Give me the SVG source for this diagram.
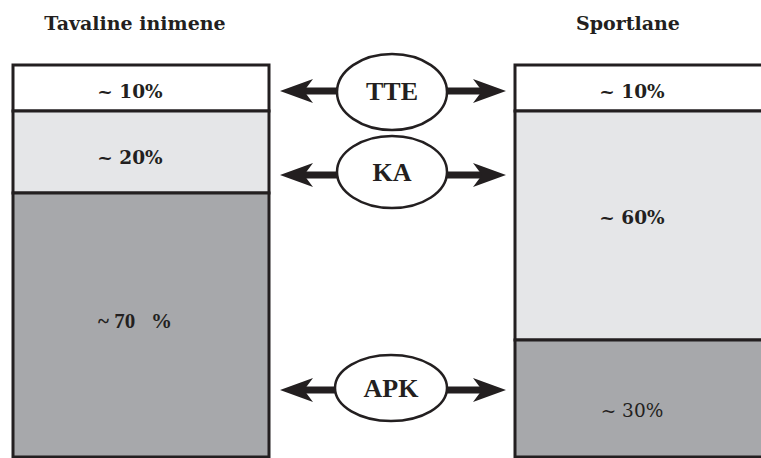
<svg xmlns="http://www.w3.org/2000/svg" width="761" height="458" viewBox="0 0 761 458">
<style>
.box{stroke:#231f20;stroke-width:3}
.w{fill:#ffffff}.l{fill:#e5e6e8}.d{fill:#a7a8ab}
.s{font-family:"DejaVu Serif","Liberation Serif",serif;font-weight:bold;fill:#231f20;text-anchor:middle}
.t{font-family:"Liberation Serif","DejaVu Serif",serif;font-weight:bold;fill:#231f20;text-anchor:middle}
.h{font-size:19px}
.p{font-size:18.5px}
.e{font-size:26px}
.ell{fill:#ffffff;stroke:#231f20;stroke-width:2.5}
.shaft{stroke:#231f20;stroke-width:7;fill:none}
.head{fill:#231f20}
</style>
<text class="s h" x="135" y="30">Tavaline inimene</text>
<text class="s h" x="628" y="30">Sportlane</text>
<g id="left">
<rect class="box w" x="13" y="65" width="256" height="46"/>
<rect class="box l" x="13" y="111" width="256" height="82"/>
<rect class="box d" x="13" y="193" width="256" height="264"/>
<text class="s p" x="130" y="98">~ 10%</text>
<text class="s p" x="130" y="164">~ 20%</text>
<text class="t" style="font-size:21px" x="135" y="328" xml:space="preserve">~ 70   %</text>
</g>
<g id="right">
<rect class="box w" x="515" y="65" width="250" height="46"/>
<rect class="box l" x="515" y="111" width="250" height="229"/>
<rect class="box d" x="515" y="340" width="250" height="117"/>
<text class="s p" x="632" y="98">~ 10%</text>
<text class="s p" x="632" y="224">~ 60%</text>
<text class="s p" x="632" y="417" style="font-weight:normal">~ 30%</text>
</g>
<g id="connectors">
<line class="shaft" x1="300" y1="91" x2="340" y2="91"/>
<path class="head" d="M280,91 L313,79 L304,91 L313,103 Z"/>
<line class="shaft" x1="444" y1="91" x2="486" y2="91"/>
<path class="head" d="M506,91 L473,79 L482,91 L473,103 Z"/>
<line class="shaft" x1="300" y1="175" x2="340" y2="175"/>
<path class="head" d="M280,175 L313,163 L304,175 L313,187 Z"/>
<line class="shaft" x1="444" y1="175" x2="486" y2="175"/>
<path class="head" d="M506,175 L473,163 L482,175 L473,187 Z"/>
<line class="shaft" x1="300" y1="390" x2="340" y2="390"/>
<path class="head" d="M280,390 L313,378 L304,390 L313,402 Z"/>
<line class="shaft" x1="444" y1="390" x2="486" y2="390"/>
<path class="head" d="M506,390 L473,378 L482,390 L473,402 Z"/>
</g>
<g id="TTE">
<ellipse class="ell" cx="392" cy="92" rx="55" ry="38"/>
<text class="t e" x="392" y="100">TTE</text>
</g>
<g id="KA">
<ellipse class="ell" cx="392" cy="172" rx="55" ry="36"/>
<text class="t e" x="392" y="181">KA</text>
</g>
<g id="APK">
<ellipse class="ell" cx="391" cy="388" rx="56" ry="33"/>
<text class="t e" x="391" y="397">APK</text>
</g>
</svg>
